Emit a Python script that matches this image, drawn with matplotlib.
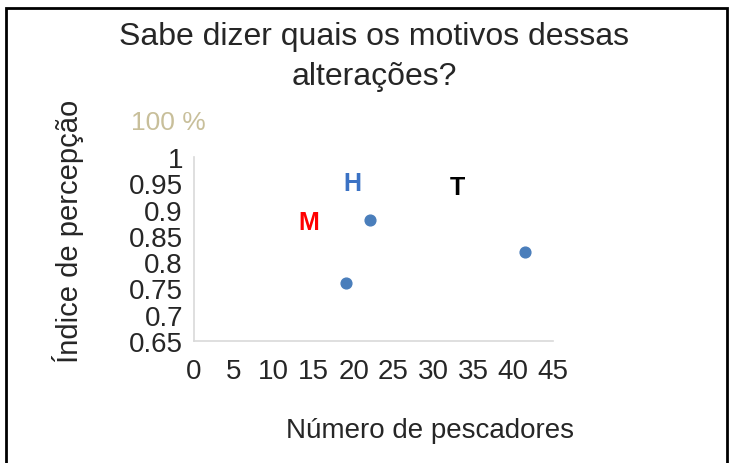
import numpy as np
import matplotlib.pyplot as plt
from matplotlib.patches import Rectangle

plt.rcParams['font.family'] = ['Liberation Sans', 'DejaVu Sans']

# dados
pescadores = [19, 22, 41.5]
percepcao = [0.76, 0.88, 0.82]
rotulos = ['M', 'H', 'T']
rotulos_x = [14.4, 19.9, 33.0]
rotulos_y = [0.876, 0.950, 0.943]
rotulos_cor = ['#ff0000', '#3b72c4', '#000000']
xticks = [0, 5, 10, 15, 20, 25, 30, 35, 40, 45]
yticks = [0.65, 0.7, 0.75, 0.8, 0.85, 0.9, 0.95, 1]
ytick_labels = ['0.65', '0.7', '0.75', '0.8', '0.85', '0.9', '0.95', '1']

fig = plt.figure(figsize=(7.3, 4.64), dpi=100)
ax = fig.add_axes([0.2658, 0.263, 0.4917, 0.3965])

ax.scatter(pescadores, percepcao, s=60, color='#4a7ebb', zorder=3)

for txt, x, y, c in zip(rotulos, rotulos_x, rotulos_y, rotulos_cor):
    ax.text(x, y, txt, color=c, fontsize=18, fontweight='bold', ha='center', va='center')

ax.set_xlim(0, 45)
ax.set_ylim(0.65, 1)
ax.set_xticks(xticks)
ax.set_yticks(yticks)
ax.set_yticklabels(ytick_labels)
ax.tick_params(length=0, labelsize=20, colors='#262626', pad=8)
ax.tick_params(axis='x', pad=12)
for s in ['top', 'right']:
    ax.spines[s].set_visible(False)
for s in ['left', 'bottom']:
    ax.spines[s].set_color('#d9d9d9')
    ax.spines[s].set_linewidth(1.2)

fig.text(0.513, 0.92, 'Sabe dizer quais os motivos dessas', ha='center', va='center',
         fontsize=23, color='#262626')
fig.text(0.513, 0.833, 'alterações?', ha='center', va='center', fontsize=23, color='#262626')
fig.text(0.230, 0.735, '100 %', ha='center', va='center', fontsize=19, color='#c8bf9a')
fig.text(0.093, 0.502, 'Índice de percepção', rotation=90, ha='center', va='center',
         fontsize=21, color='#262626')
fig.text(0.589, 0.072, 'Número de pescadores', ha='center', va='center',
         fontsize=20, color='#262626')

# moldura
fig.patches.append(Rectangle((0.008, -0.01), 0.988, 0.99, transform=fig.transFigure,
                             fill=False, edgecolor='black', linewidth=2))

fig.savefig('out.png', dpi=100)
